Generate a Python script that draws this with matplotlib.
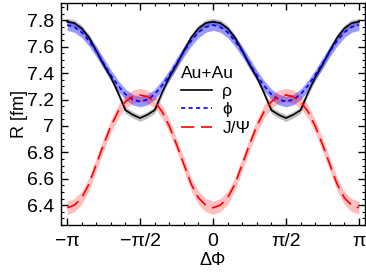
import numpy as np
import matplotlib.pyplot as plt
from matplotlib.ticker import MultipleLocator, FixedLocator

plt.rcParams['font.family'] = ['Liberation Sans', 'DejaVu Sans']
plt.rcParams['font.size'] = 14

# delta phi in units of pi/20, from -pi to pi
k = np.arange(-20, 21)
dphi = k * np.pi / 20

# R values (-pi ... 0 ... pi)
r_rho = [7.79, 7.78, 7.74, 7.67, 7.57, 7.465, 7.37, 7.25, 7.12, 7.085, 7.06,
         7.085, 7.12, 7.25, 7.37, 7.465, 7.57, 7.67, 7.74, 7.78, 7.79,
         7.78, 7.74, 7.67, 7.57, 7.465, 7.37, 7.25, 7.12, 7.085, 7.06,
         7.085, 7.12, 7.25, 7.37, 7.465, 7.57, 7.67, 7.74, 7.78, 7.79]
r_phi = [7.765, 7.75, 7.71, 7.645, 7.565, 7.475, 7.385, 7.305, 7.24, 7.2, 7.185,
         7.2, 7.24, 7.305, 7.385, 7.475, 7.565, 7.645, 7.71, 7.75, 7.765,
         7.75, 7.71, 7.645, 7.565, 7.475, 7.385, 7.305, 7.24, 7.2, 7.185,
         7.2, 7.24, 7.305, 7.385, 7.475, 7.565, 7.645, 7.71, 7.75, 7.765]
r_jpsi = [6.38, 6.40, 6.455, 6.56, 6.71, 6.86, 7.0, 7.11, 7.185, 7.222, 7.235,
          7.222, 7.185, 7.11, 7.0, 6.86, 6.71, 6.56, 6.455, 6.40, 6.38,
          6.40, 6.455, 6.56, 6.71, 6.86, 7.0, 7.11, 7.185, 7.222, 7.235,
          7.222, 7.185, 7.11, 7.0, 6.86, 6.71, 6.56, 6.455, 6.40, 6.38]
err_rho = 0.025
err_phi = 0.04
err_jpsi = 0.05

fig = plt.figure(figsize=(3.66, 2.75), dpi=100)
ax = fig.add_axes([0.167, 0.182, 0.83, 0.806])

r = np.array(r_rho)
ax.fill_between(dphi, r - err_rho, r + err_rho, color='black', alpha=0.25, lw=0)
ax.plot(dphi, r, color='black', lw=1.2, label='ρ')

r = np.array(r_phi)
ax.fill_between(dphi, r - err_phi, r + err_phi, color='blue', alpha=0.4, lw=0)
ax.plot(dphi, r, color='blue', lw=1.2, ls=(0, (2.5, 2)), label='ϕ')

r = np.array(r_jpsi)
ax.fill_between(dphi, r - err_jpsi, r + err_jpsi, color='red', alpha=0.25, lw=0)
ax.plot(dphi, r, color='red', lw=1.2, ls=(0, (8, 4)), label='J/Ψ')

ax.set_xlim(-3.27, 3.27)
ax.set_ylim(6.25, 7.93)
ax.xaxis.set_major_locator(FixedLocator([-np.pi, -np.pi/2, 0, np.pi/2, np.pi]))
ax.set_xticklabels(['−π', '−π/2', '0', 'π/2', 'π'])
ax.xaxis.set_minor_locator(MultipleLocator(np.pi/10))
ax.set_yticks([6.4, 6.6, 6.8, 7.0, 7.2, 7.4, 7.6, 7.8])
ax.set_yticklabels(['6.4', '6.6', '6.8', '7', '7.2', '7.4', '7.6', '7.8'])
ax.yaxis.set_minor_locator(MultipleLocator(0.05))
ax.tick_params(which='both', direction='in', top=True, right=True, labelsize=14)
ax.tick_params(which='major', length=5, width=1, pad=5)
ax.tick_params(axis='x', which='major', pad=6)
ax.tick_params(which='minor', length=2.5, width=0.8)
for s in ax.spines.values():
    s.set_linewidth(1)

ax.set_xlabel('ΔΦ', fontsize=13, labelpad=1)
ax.set_ylabel('R [fm]', fontsize=13, labelpad=-1)

leg = ax.legend(title='Au+Au', frameon=False, fontsize=12.5, title_fontsize=12.5,
                loc='upper left', bbox_to_anchor=(0.365, 0.755),
                handlelength=1.8, handletextpad=0.6, labelspacing=0.17,
                borderpad=0, alignment='left')

fig.savefig('out.png', dpi=100)
